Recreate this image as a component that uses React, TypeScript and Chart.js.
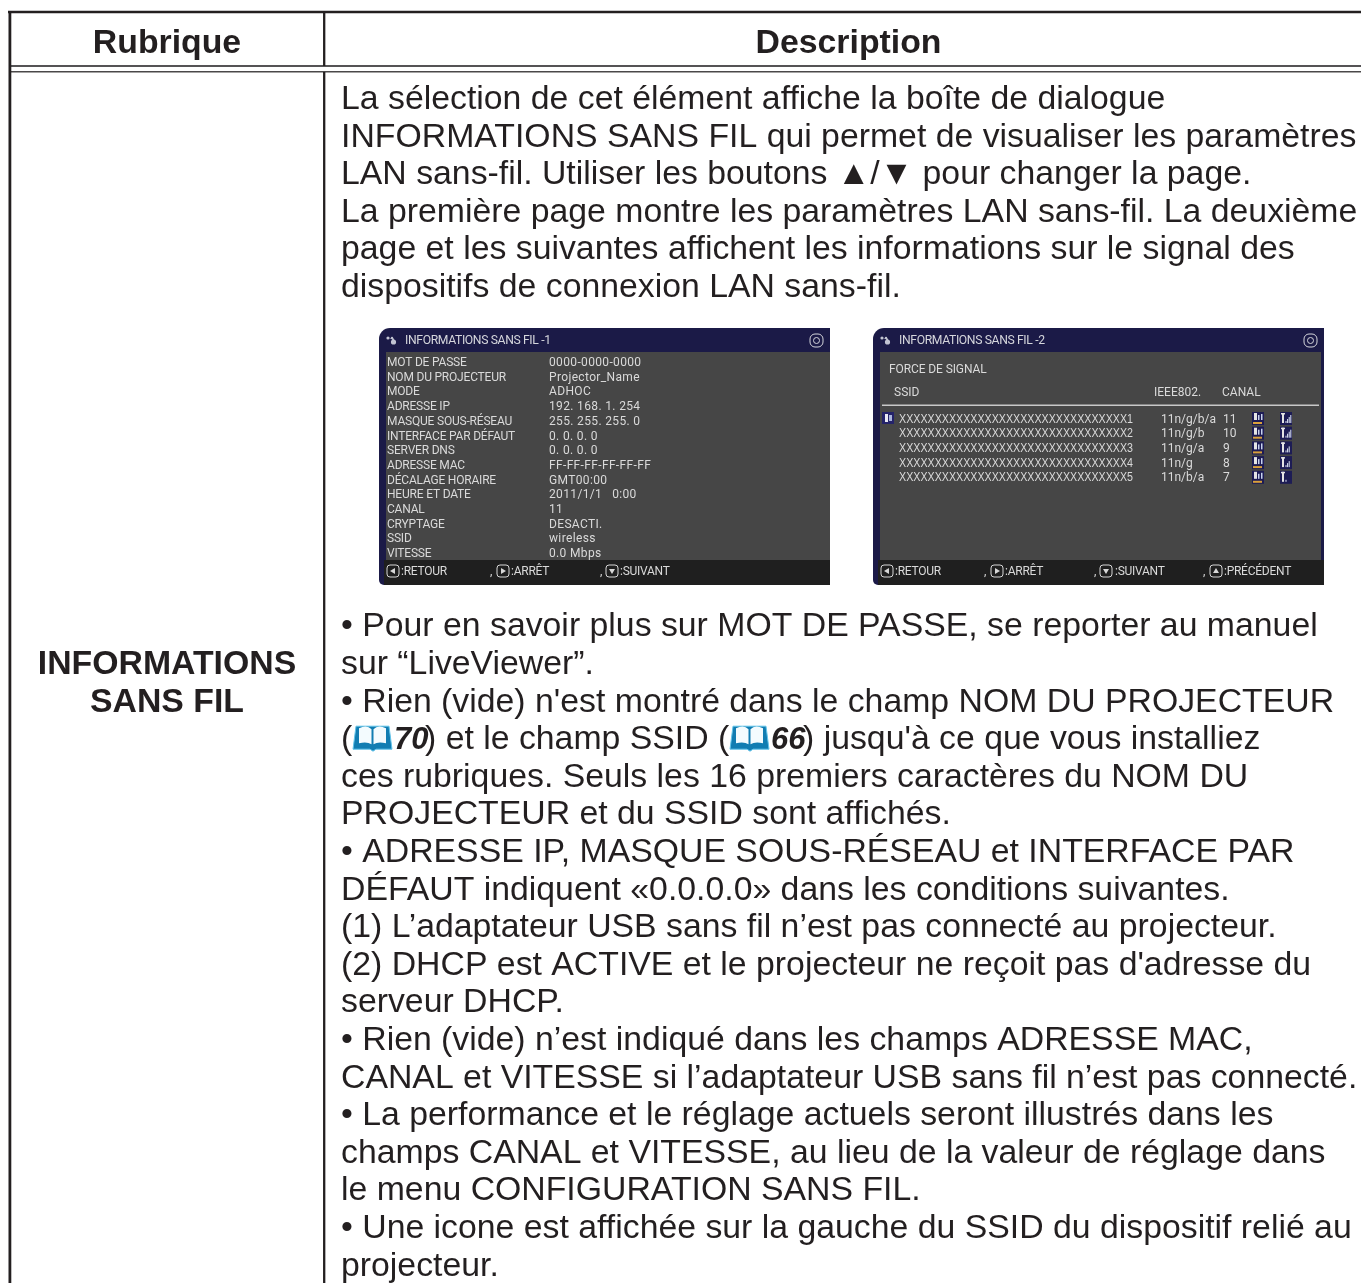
import React, { useEffect, useRef } from "react";
import { Chart, registerables } from "chart.js";

Chart.register(...registerables);

const PAGE_W = 1361;
const PAGE_H = 1283;

const headerLeft = "Rubrique";
const headerRight = "Description";
const rowTitle = ["INFORMATIONS", "SANS FIL"];

const introLines = [
  "La sélection de cet élément affiche la boîte de dialogue",
  "INFORMATIONS SANS FIL qui permet de visualiser les paramètres",
  "LAN sans-fil. Utiliser les boutons ▲/▼ pour changer la page.",
  "La première page montre les paramètres LAN sans-fil. La deuxième",
  "page et les suivantes affichent les informations sur le signal des",
  "dispositifs de connexion LAN sans-fil.",
];

const notesBefore = [
  "• Pour en savoir plus sur MOT DE PASSE, se reporter au manuel",
  "sur “LiveViewer”.",
  "• Rien (vide) n'est montré dans le champ NOM DU PROJECTEUR",
];
const refLine = ["(", "70", ") et le champ SSID (", "66", ") jusqu'à ce que vous installiez"];
const notesAfter = [
  "ces rubriques. Seuls les 16 premiers caractères du NOM DU",
  "PROJECTEUR et du SSID sont affichés.",
  "• ADRESSE IP, MASQUE SOUS-RÉSEAU et INTERFACE PAR",
  "DÉFAUT indiquent «0.0.0.0» dans les conditions suivantes.",
  "(1) L’adaptateur USB sans fil n’est pas connecté au projecteur.",
  "(2) DHCP est ACTIVE et le projecteur ne reçoit pas d'adresse du",
  "serveur DHCP.",
  "• Rien (vide) n’est indiqué dans les champs ADRESSE MAC,",
  "CANAL et VITESSE si l’adaptateur USB sans fil n’est pas connecté.",
  "• La performance et le réglage actuels seront illustrés dans les",
  "champs CANAL et VITESSE, au lieu de la valeur de réglage dans",
  "le menu CONFIGURATION SANS FIL.",
  "• Une icone est affichée sur la gauche du SSID du dispositif relié au",
  "projecteur.",
];

const panel1Title = "INFORMATIONS SANS FIL -1";
const panel1Labels = [
  "MOT DE PASSE",
  "NOM DU PROJECTEUR",
  "MODE",
  "ADRESSE IP",
  "MASQUE SOUS-RÉSEAU",
  "INTERFACE PAR DÉFAUT",
  "SERVER DNS",
  "ADRESSE MAC",
  "DÉCALAGE HORAIRE",
  "HEURE ET DATE",
  "CANAL",
  "CRYPTAGE",
  "SSID",
  "VITESSE",
];
const panel1Values = [
  "0000-0000-0000",
  "Projector_Name",
  "ADHOC",
  "192. 168. 1. 254",
  "255. 255. 255. 0",
  "0. 0. 0. 0",
  "0. 0. 0. 0",
  "FF-FF-FF-FF-FF-FF",
  "GMT00:00",
  "2011/1/1   0:00",
  "11",
  "DESACTI.",
  "wireless",
  "0.0 Mbps",
];

const panel2Title = "INFORMATIONS SANS FIL -2";
const panel2Heading = "FORCE DE SIGNAL";
const panel2Columns = ["SSID", "IEEE802.", "CANAL"];
const panel2Ssids = [
  "XXXXXXXXXXXXXXXXXXXXXXXXXXXXXXXX1",
  "XXXXXXXXXXXXXXXXXXXXXXXXXXXXXXXX2",
  "XXXXXXXXXXXXXXXXXXXXXXXXXXXXXXXX3",
  "XXXXXXXXXXXXXXXXXXXXXXXXXXXXXXXX4",
  "XXXXXXXXXXXXXXXXXXXXXXXXXXXXXXXX5",
];
const panel2Standards = ["11n/g/b/a", "11n/g/b", "11n/g/a", "11n/g", "11n/b/a"];
const panel2Channels = ["11", "10", "9", "8", "7"];
const signalBars = [4, 4, 3, 3, 1];

const footerLabels = [":RETOUR", ":ARRÊT", ":SUIVANT", ":PRÉCÉDENT"];

const INK = "#231f20";
const BODY_FONT = '33.8px "Liberation Sans"';
const BOLD_FONT = 'bold 33.8px "Liberation Sans"';
const OSD = "Roboto";

const pagePlugin = {
  id: "pagePlugin",
  afterDatasetsDraw(chart: any) {
    const ctx: any = chart.ctx;
    const sx = (v: number) => chart.scales.x.getPixelForValue(v);
    const sy = (v: number) => chart.scales.y.getPixelForValue(v);
    const txt = (s: string, x: number, y: number, font: string, color = INK, align: CanvasTextAlign = "left", maxW?: number, spacing = 0) => {
      ctx.font = font;
      ctx.letterSpacing = `${spacing}px`;
      ctx.fillStyle = color;
      ctx.textAlign = align;
      ctx.textBaseline = "alphabetic";
      if (maxW) ctx.fillText(s, sx(x), sy(y), maxW);
      else ctx.fillText(s, sx(x), sy(y));
      ctx.letterSpacing = "0px";
    };
    const rect = (x: number, y: number, w: number, h: number, c: string) => {
      ctx.fillStyle = c;
      ctx.fillRect(sx(x), sy(y), w, h);
    };

    const book = (x: number, y: number) => {
      ctx.save();
      ctx.translate(sx(x), sy(y));
      ctx.strokeStyle = "#63c4ea";
      ctx.lineWidth = 1;
      ctx.fillStyle = "#117db2";
      ctx.beginPath();
      ctx.moveTo(0, 26);
      ctx.lineTo(3, 3);
      ctx.lineTo(36, 3);
      ctx.lineTo(39, 26);
      ctx.lineTo(23, 26);
      ctx.lineTo(20, 28);
      ctx.lineTo(17, 26);
      ctx.closePath();
      ctx.fill();
      ctx.stroke();
      ctx.fillStyle = "#f3fbfe";
      ctx.beginPath();
      ctx.moveTo(6, 5);
      ctx.quadraticCurveTo(14, 1, 18.5, 6);
      ctx.lineTo(18.5, 21);
      ctx.quadraticCurveTo(14, 18, 6, 20);
      ctx.closePath();
      ctx.moveTo(33, 5);
      ctx.quadraticCurveTo(25, 1, 20.5, 6);
      ctx.lineTo(20.5, 21);
      ctx.quadraticCurveTo(25, 18, 33, 20);
      ctx.closePath();
      ctx.fill();
      ctx.restore();
    };

    const navIcon = (x: number, y: number, dir: string) => {
      ctx.strokeStyle = "#d8d8d8";
      ctx.lineWidth = 1;
      ctx.beginPath();
      ctx.roundRect(sx(x), sy(y - 6), 12, 12, 3);
      ctx.stroke();
      ctx.fillStyle = "#d8d8d8";
      const cx = sx(x) + 6;
      const cy = sy(y);
      ctx.beginPath();
      if (dir === "l") { ctx.moveTo(cx - 3, cy); ctx.lineTo(cx + 2, cy - 3); ctx.lineTo(cx + 2, cy + 3); }
      if (dir === "r") { ctx.moveTo(cx + 3, cy); ctx.lineTo(cx - 2, cy - 3); ctx.lineTo(cx - 2, cy + 3); }
      if (dir === "d") { ctx.moveTo(cx, cy + 3); ctx.lineTo(cx - 3, cy - 2); ctx.lineTo(cx + 3, cy - 2); }
      if (dir === "u") { ctx.moveTo(cx, cy - 3); ctx.lineTo(cx - 3, cy + 2); ctx.lineTo(cx + 3, cy + 2); }
      ctx.closePath();
      ctx.fill();
    };

    const panel = (x: number, right: boolean, title: string) => {
      const W = 451;
      ctx.fillStyle = "#1b1a47";
      ctx.beginPath();
      ctx.roundRect(sx(x), sy(328), W, 257, [11, 0, 0, 5]);
      ctx.fill();
      rect(x + 7, 352, right ? W - 10 : W - 7, 208, "#464646");
      rect(x + 5, 560, W - 5, 25, "#1f1f1f");
      ctx.fillStyle = "#c2c4d2";
      ctx.beginPath();
      ctx.arc(sx(x + 9), sy(338), 1.6, 0, Math.PI * 2);
      ctx.arc(sx(x + 13), sy(338), 1.2, 0, Math.PI * 2);
      ctx.arc(sx(x + 14.5), sy(342), 2.6, 0, Math.PI * 2);
      ctx.fill();
      txt(title, x + 26, 344, `12.2px ${OSD}`, "#d5d6dc", "left", undefined, -0.37);
      ctx.strokeStyle = "#d5d6dc";
      ctx.lineWidth = 1;
      ctx.beginPath();
      ctx.roundRect(sx(x + 431), sy(334), 13, 13, 5);
      ctx.stroke();
      ctx.beginPath();
      ctx.arc(sx(x + 437.5), sy(340.5), 3, 0, Math.PI * 2);
      ctx.stroke();
    };

    ctx.save();
    ctx.filter = "blur(0.35px)";
    panel(379, false, panel1Title);
    panel(873, true, panel2Title);

    const osd = `12px ${OSD}`;
    const light = "#dadada";
    panel1Labels.forEach((s, i) => txt(s, 387, 366 + i * 14.7, osd, light, "left", 135, -0.2));
    panel1Values.forEach((s, i) => txt(s, 549, 366 + i * 14.7, osd, light, "left", undefined, 0.35));

    const footerFont = `12px ${OSD}`;
    const dirs = ["l", "r", "d", "u"];
    const tight = -0.25;
    [401, 511, 620].forEach((x, i) => txt(footerLabels[i], x, 575, footerFont, light, "left", undefined, tight));
    [387, 497, 606].forEach((x, i) => navIcon(x, 571, dirs[i]));
    [490, 600].forEach((x) => txt(",", x, 575, footerFont, light));
    [895, 1005, 1115, 1224].forEach((x, i) => txt(footerLabels[i], x, 575, footerFont, light, "left", undefined, tight));
    [881, 991, 1100, 1210].forEach((x, i) => navIcon(x, 571, dirs[i]));
    [984, 1094, 1203].forEach((x) => txt(",", x, 575, footerFont, light));

    txt(panel2Heading, 889, 373, osd, light, "left", undefined, -0.1);
    [894, 1154, 1222].forEach((x, i) => txt(panel2Columns[i], x, 396, osd, light));
    rect(882, 404.5, 437, 1.5, "#c8c8c8");
    rect(882, 412, 12, 12, "#24236a");
    rect(885, 414, 3, 8, "#e8e8f2");
    rect(889, 415, 3, 6, "#aab4dc");
    panel2Ssids.forEach((s, i) => {
      const y = 422.5 + i * 14.7;
      txt(s, 899, y, `12px "Liberation Sans"`, light, "left", 234);
      txt(panel2Standards[i], 1161, y, osd, light);
      txt(panel2Channels[i], 1223, y, osd, light);
      const top = y - 10.5;
      rect(1252, top, 12, 13, "#1d1c55");
      rect(1254, top + 1, 3, 7, "#e4e4e4");
      rect(1258, top + 3, 1.5, 5, "#c8d2ee");
      rect(1261, top + 2, 1.5, 6, "#c8d2ee");
      rect(1253, top + 10, 9, 2, "#d9a03b");
      rect(1280, top, 12, 13, "#1d1c55");
      rect(1281, top + 1, 4, 1.5, "#e4e4e4");
      rect(1282, top + 1, 2, 10, "#e4e4e4");
      for (let b = 0; b < signalBars[i]; b++) {
        const h = 2 + b * 2;
        rect(1285.5 + b * 1.6, top + 11 - h, 1, h, "#dfe6f5");
      }
    });
    ctx.restore();

    // Document text
    txt(headerLeft, 167, 53, BOLD_FONT, INK, "center");
    txt(headerRight, 848.5, 53, BOLD_FONT, INK, "center");
    txt(rowTitle[0], 167, 674, BOLD_FONT, INK, "center");
    txt(rowTitle[1], 167, 712, BOLD_FONT, INK, "center");

    const PITCH = 37.6;
    introLines.forEach((s, i) => txt(s, 341, 109 + i * PITCH, BODY_FONT));
    const start = 636.4;
    notesBefore.forEach((s, i) => txt(s, 341, start + i * PITCH, BODY_FONT));
    const refY = start + 3 * PITCH;
    txt(refLine[0], 341, refY, BODY_FONT);
    book(353, refY - 26);
    txt(refLine[1], 394, refY, `italic bold 31px "Liberation Sans"`);
    txt(refLine[2], 425, refY, BODY_FONT);
    book(730, refY - 26);
    txt(refLine[3], 771, refY, `italic bold 31px "Liberation Sans"`);
    txt(refLine[4], 803, refY, BODY_FONT);
    notesAfter.forEach((s, i) => txt(s, 341, start + (i + 4) * PITCH, BODY_FONT));
  },
};

const ruleTop = [{ x: 8, y: 12 }, { x: 1361, y: 12 }];
const ruleLeft = [{ x: 9.9, y: 11 }, { x: 9.9, y: 1283 }];
const ruleMidHeader = [{ x: 324.2, y: 12 }, { x: 324.2, y: 66 }];
const ruleMidBody = [{ x: 324.2, y: 72 }, { x: 324.2, y: 1283 }];
const ruleHeadA = [{ x: 10, y: 66 }, { x: 1361, y: 66 }];
const ruleHeadB = [{ x: 10, y: 71.8 }, { x: 1361, y: 71.8 }];

export default function App() {
  const ref = useRef<HTMLCanvasElement>(null);
  useEffect(() => {
    document.body.style.margin = "0";
    const line = (data: any[], width: number, color: string) => ({
      data,
      borderWidth: width,
      borderColor: color,
      pointRadius: 0,
      fill: false,
      tension: 0,
    });
    const chart = new Chart(ref.current as HTMLCanvasElement, {
      type: "line",
      data: {
        datasets: [
          line(ruleTop, 2.6, INK),
          line(ruleLeft, 2.8, INK),
          line(ruleMidHeader, 2.3, INK),
          line(ruleMidBody, 2.3, INK),
          line(ruleHeadA, 2, "#555355"),
          line(ruleHeadB, 1.5, "#4a4849"),
        ],
      },
      options: {
        animation: false,
        responsive: false,
        layout: { padding: 0 },
        plugins: { legend: { display: false }, tooltip: { enabled: false }, title: { display: false } },
        scales: {
          x: { type: "linear", min: 0, max: PAGE_W, display: false },
          y: { type: "linear", min: 0, max: PAGE_H, reverse: true, display: false },
        },
      },
      plugins: [pagePlugin],
    } as any);
    return () => chart.destroy();
  }, []);
  return <canvas ref={ref} width={PAGE_W} height={PAGE_H} style={{ display: "block", width: PAGE_W, height: PAGE_H }} />;
}
